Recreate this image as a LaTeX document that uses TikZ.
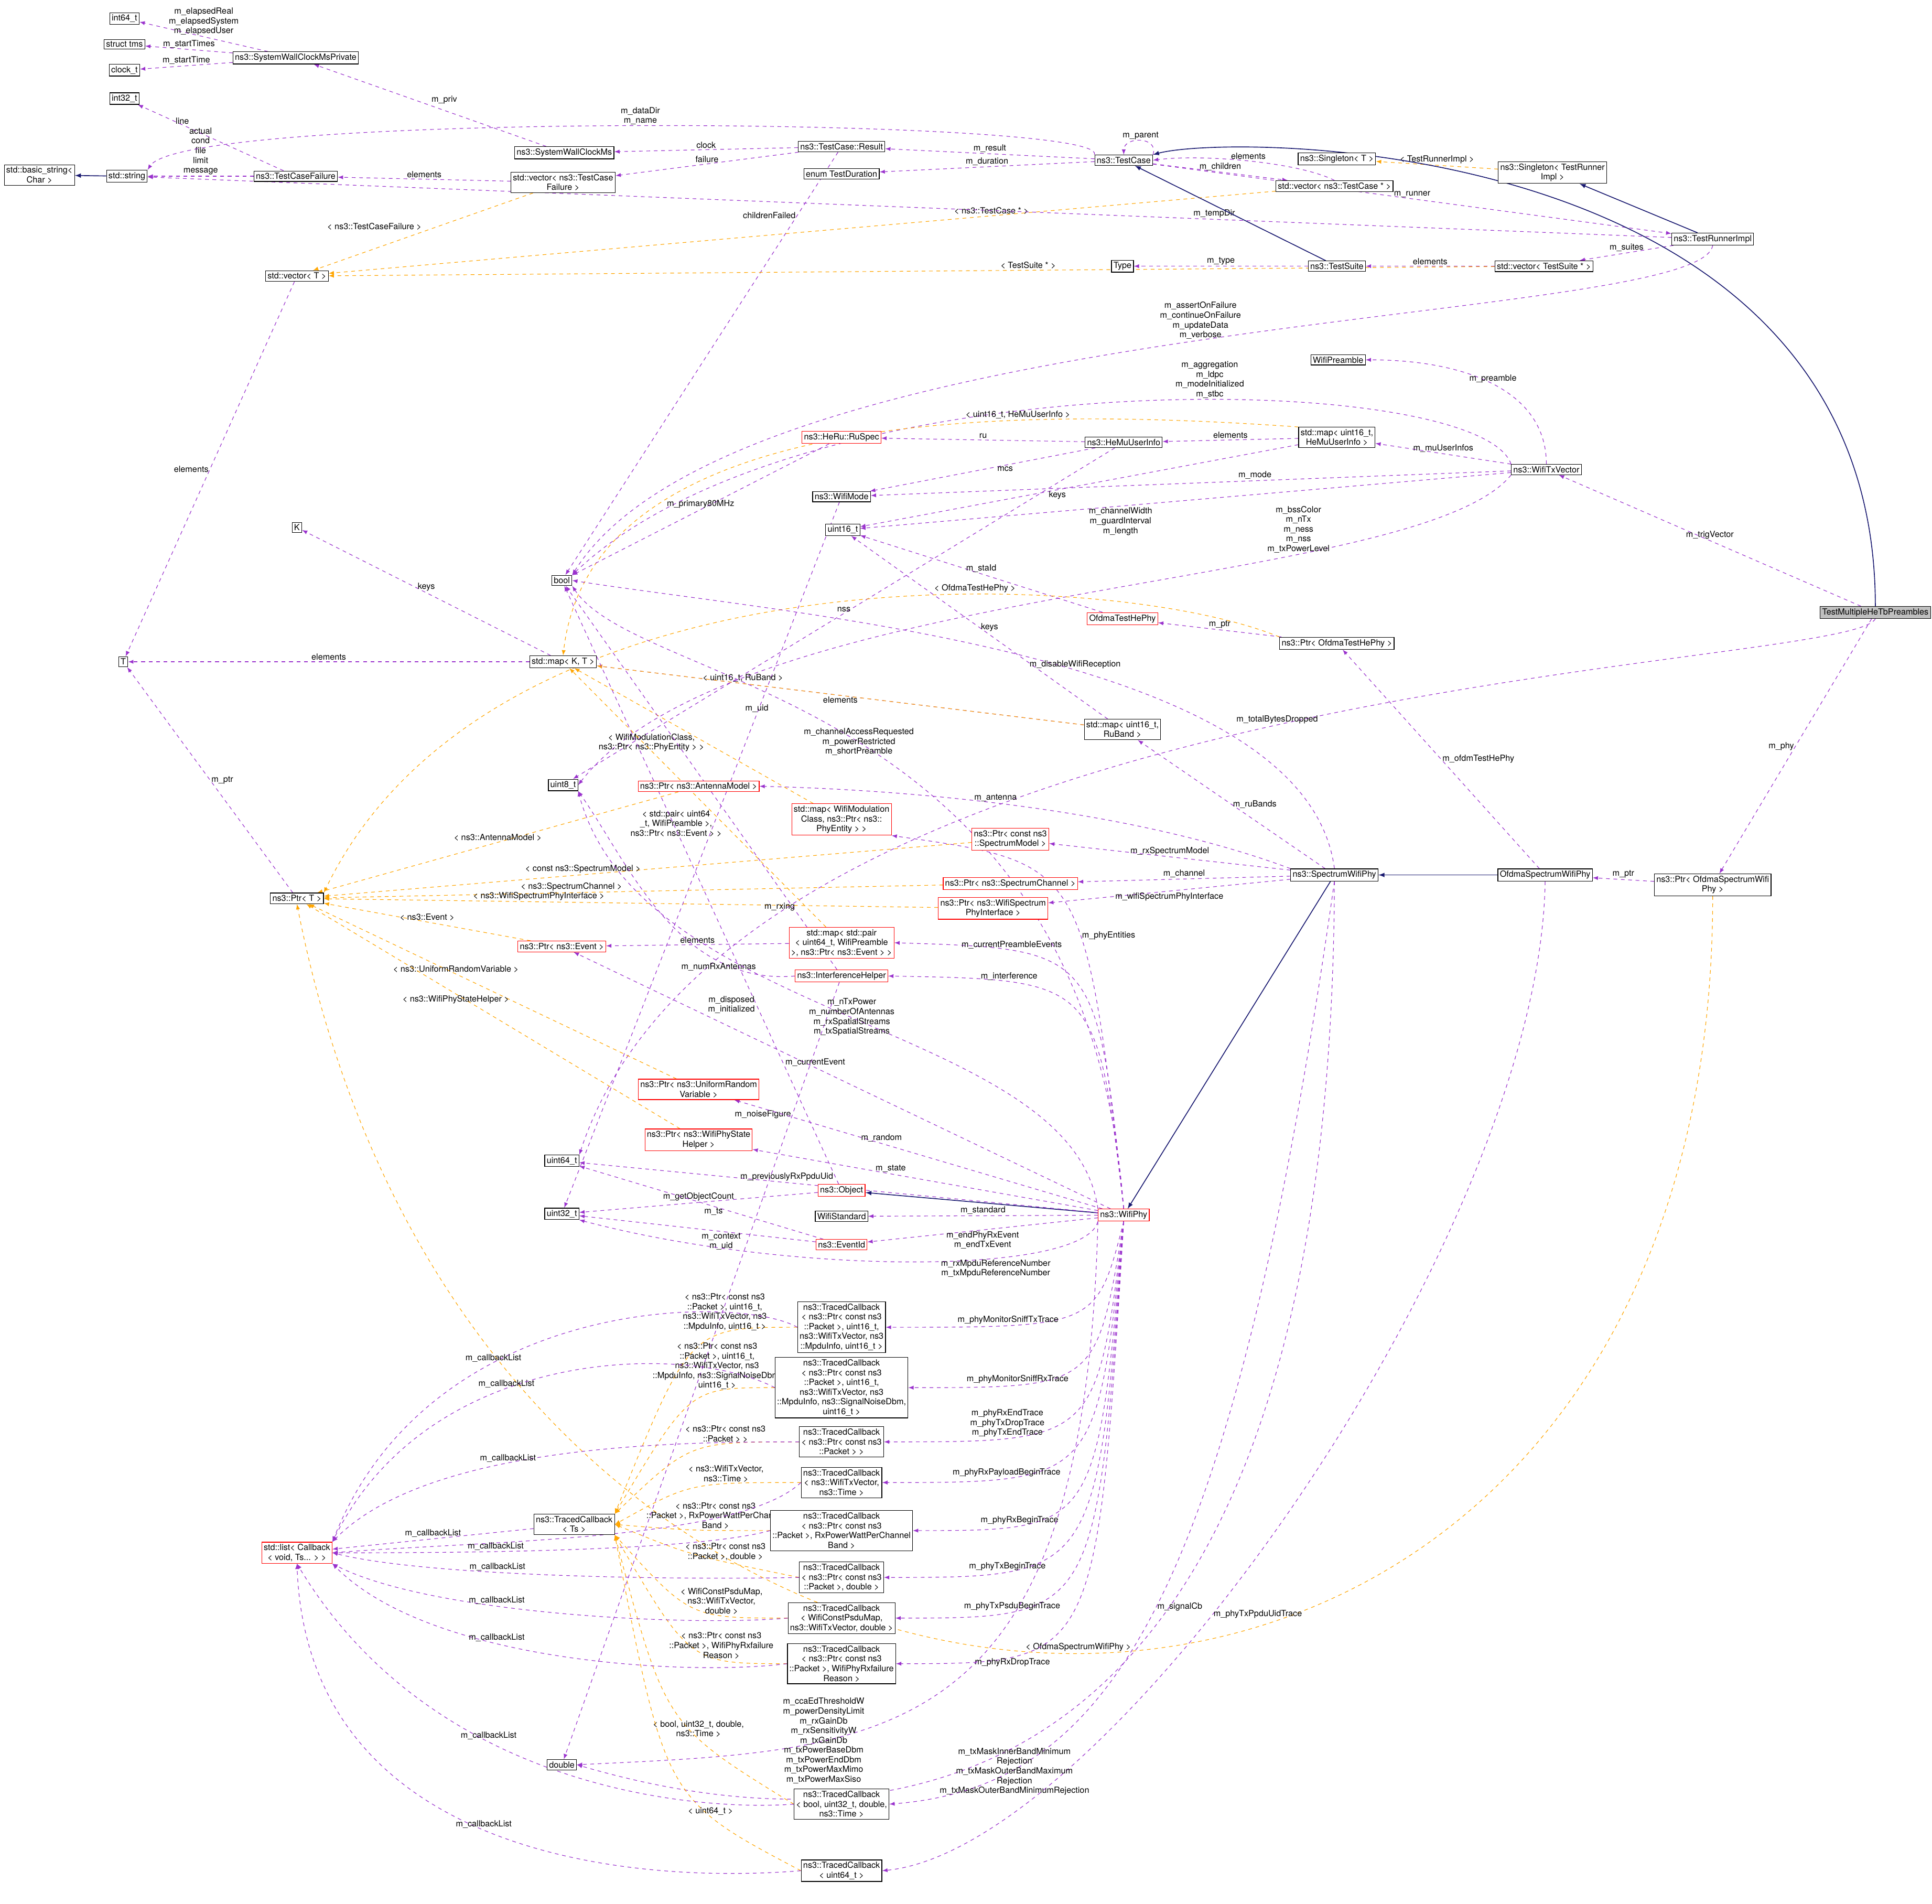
\documentclass[tikz,border=0pt]{standalone}
\usepackage{fontspec}
\setmainfont{TeX Gyre Heros}
\usepackage{xcolor}
\usepackage{tikz}
\usetikzlibrary{arrows}
\definecolor{usecol}{HTML}{9A32CD}
\definecolor{tplcol}{HTML}{FFA500}
\definecolor{inhcol}{HTML}{191970}
\pgfdeclarelayer{edges}
\pgfsetlayers{edges,main}
\begin{document}
\begin{tikzpicture}[x=1pt, y=-1pt, font=\fontsize{6.9}{7.9}\selectfont]
\tikzstyle{cls} = [rectangle, draw=black, fill=white, inner sep=1.6pt, align=center, line width=0.5pt]
\tikzstyle{redcls} = [cls, draw=red]
\tikzstyle{use} = [-latex, dashed, draw=usecol, line width=0.5pt]
\tikzstyle{tpl} = [-latex, dashed, draw=tplcol, line width=0.5pt]
\tikzstyle{inh} = [-latex, draw=inhcol, line width=0.7pt]
\tikzstyle{lbl} = [align=center, inner sep=1pt]
\useasboundingbox (0,0) rectangle (1568,1545);

% left column
\node (i64)  [cls] at (101,15) {int64\_t};
\node (tms)  [cls] at (101,36) {struct tms};
\node (clk)  [cls] at (101,57) {clock\_t};
\node (i32)  [cls] at (101,80) {int32\_t};
\node (bstr) [cls] at (32,142) {std::basic\_string\textless\\Char \textgreater};
\node (str)  [cls] at (103,143) {std::string};
\node (kK)   [cls] at (241,428) {K};
\node (tT)   [cls] at (100,537) {T};
\node (swcp) [cls] at (240,47) {ns3::SystemWallClockMsPrivate};
\node (tcf)  [cls] at (240,143) {ns3::TestCaseFailure};
\node (vecT) [cls] at (241,224) {std::vector\textless{} T \textgreater};
\node (ptrT) [cls] at (241,729) {ns3::Ptr\textless{} T \textgreater};
\node (cbl)  [redcls] at (241,1260) {std::list\textless{} Callback\\\textless{} void, Ts... \textgreater{} \textgreater};

% second column
\node (swc)  [cls] at (458,124) {ns3::SystemWallClockMs};
\node (vtcf) [cls] at (457,148) {std::vector\textless{} ns3::TestCase\\Failure \textgreater};
\node (bl)   [cls] at (456,471) {bool};
\node (mapKT)[cls] at (457,537) {std::map\textless{} K, T \textgreater};
\node (u8)   [cls] at (457,637) {uint8\_t};
\node (pev)  [redcls] at (456,768) {ns3::Ptr\textless{} ns3::Event \textgreater};
\node (u64)  [cls] at (456,942) {uint64\_t};
\node (u32)  [cls] at (456,985) {uint32\_t};
\node (tcTs) [cls] at (466,1237) {ns3::TracedCallback\\\textless{} Ts \textgreater};
\node (dbl)  [cls] at (456,1432) {double};
\node (pant) [redcls] at (567,638) {ns3::Ptr\textless{} ns3::AntennaModel \textgreater};
\node (purv) [redcls] at (567,884) {ns3::Ptr\textless{} ns3::UniformRandom\\Variable \textgreater};
\node (pwsh) [redcls] at (567,925) {ns3::Ptr\textless{} ns3::WifiPhyState\\Helper \textgreater};

% third column
\node (res)   [cls] at (683,119) {ns3::TestCase::Result};
\node (tdur)  [cls] at (683,141) {enum TestDuration};
\node (ruspec)[redcls] at (683,355) {ns3::HeRu::RuSpec};
\node (wmode) [cls] at (683,403) {ns3::WifiMode};
\node (u16)   [cls] at (684,430) {uint16\_t};
\node (mapWmc)[redcls] at (683,665) {std::map\textless{} WifiModulation\\Class, ns3::Ptr\textless{} ns3::\\PhyEntity \textgreater{} \textgreater};
\node (mapPr) [redcls] at (683,765) {std::map\textless{} std::pair\\\textless{} uint64\_t, WifiPreamble\\\textgreater, ns3::Ptr\textless{} ns3::Event \textgreater{} \textgreater};
\node (ih)    [redcls] at (683,792) {ns3::InterferenceHelper};
\node (obj)   [redcls] at (683,966) {ns3::Object};
\node (wstd)  [cls] at (683,987) {WifiStandard};
\node (evid)  [redcls] at (683,1010) {ns3::EventId};
\node (tc1) [cls] at (683,1077) {ns3::TracedCallback\\\textless{} ns3::Ptr\textless{} const ns3\\::Packet \textgreater, uint16\_t,\\ns3::WifiTxVector, ns3\\::MpduInfo, uint16\_t \textgreater};
\node (tc2) [cls] at (683,1126) {ns3::TracedCallback\\\textless{} ns3::Ptr\textless{} const ns3\\::Packet \textgreater, uint16\_t,\\ns3::WifiTxVector, ns3\\::MpduInfo, ns3::SignalNoiseDbm,\\uint16\_t \textgreater};
\node (tc3) [cls] at (683,1170) {ns3::TracedCallback\\\textless{} ns3::Ptr\textless{} const ns3\\::Packet \textgreater{} \textgreater};
\node (tc4) [cls] at (683,1203) {ns3::TracedCallback\\\textless{} ns3::WifiTxVector,\\ns3::Time \textgreater};
\node (tc5) [cls] at (683,1242) {ns3::TracedCallback\\\textless{} ns3::Ptr\textless{} const ns3\\::Packet \textgreater, RxPowerWattPerChannel\\Band \textgreater};
\node (tc6) [cls] at (683,1280) {ns3::TracedCallback\\\textless{} ns3::Ptr\textless{} const ns3\\::Packet \textgreater, double \textgreater};
\node (tc7) [cls] at (683,1313) {ns3::TracedCallback\\\textless{} WifiConstPsduMap,\\ns3::WifiTxVector, double \textgreater};
\node (tc8) [cls] at (683,1350) {ns3::TracedCallback\\\textless{} ns3::Ptr\textless{} const ns3\\::Packet \textgreater, WifiPhyRxfailure\\Reason \textgreater};
\node (tcSig) [cls] at (683,1464) {ns3::TracedCallback\\\textless{} bool, uint32\_t, double,\\ns3::Time \textgreater};
\node (tcU64) [cls] at (683,1518) {ns3::TracedCallback\\\textless{} uint64\_t \textgreater};
\node (pspm)  [redcls] at (820,681) {ns3::Ptr\textless{} const ns3\\::SpectrumModel \textgreater};
\node (pch)   [redcls] at (820,717) {ns3::Ptr\textless{} ns3::SpectrumChannel \textgreater};
\node (pwspi) [redcls] at (806,737) {ns3::Ptr\textless{} ns3::WifiSpectrum\\PhyInterface \textgreater};

% fourth column
\node (tc)    [cls] at (912,130) {ns3::TestCase};
\node (typ)   [cls] at (911,216) {Type};
\node (hemu)  [cls] at (912,359) {ns3::HeMuUserInfo};
\node (othp)  [redcls] at (911,502) {OfdmaTestHePhy};
\node (mapRu) [cls] at (911,592) {std::map\textless{} uint16\_t,\\RuBand \textgreater};
\node (wphy)  [redcls] at (912,986) {ns3::WifiPhy};

% right columns
\node (sgT)   [cls] at (1085,129) {ns3::Singleton\textless{} T \textgreater};
\node (vtc)   [cls] at (1083,151) {std::vector\textless{} ns3::TestCase * \textgreater};
\node (ts)    [cls] at (1085,216) {ns3::TestSuite};
\node (wpre)  [cls] at (1086,292) {WifiPreamble};
\node (mapHe) [cls] at (1085,355) {std::map\textless{} uint16\_t,\\HeMuUserInfo \textgreater};
\node (pothp) [cls] at (1085,522) {ns3::Ptr\textless{} OfdmaTestHePhy \textgreater};
\node (swp)   [cls] at (1083,710) {ns3::SpectrumWifiPhy};
\node (sgR)   [cls] at (1260,140) {ns3::Singleton\textless{} TestRunner\\Impl \textgreater};
\node (vts)   [cls] at (1253,216) {std::vector\textless{} TestSuite * \textgreater};
\node (txv)   [cls] at (1255,381) {ns3::WifiTxVector};
\node (oswp)  [cls] at (1254,710) {OfdmaSpectrumWifiPhy};
\node (tri)   [cls] at (1390,194) {ns3::TestRunnerImpl};
\node (poswp) [cls] at (1390,718) {ns3::Ptr\textless{} OfdmaSpectrumWifi\\Phy \textgreater};
\node (tmh)   [cls, fill=black!25] at (1522,497) {TestMultipleHeTbPreambles};

\begin{pgfonlayer}{edges}
% test framework
\draw [use] (swcp) -- node[lbl, above] {m\_elapsedReal\\m\_elapsedSystem\\m\_elapsedUser} (i64);
\draw [use] (swcp) -- node[lbl, above] {m\_startTimes} (tms);
\draw [use] (swcp) -- node[lbl, above] {m\_startTime} (clk);
\draw [use] (swc) -- node[lbl, above right] {m\_priv} (swcp);
\draw [use] (tcf) -- node[lbl, pos=0.75, right] {line} (i32);
\draw [use] (tcf) -- node[lbl, above] {actual\\cond\\file\\limit\\message} (str);
\draw [inh] (str) -- (bstr);
\draw [use] (vtcf) -- node[lbl, above] {elements} (tcf);
\draw [tpl] (vtcf) -- node[lbl, above left] {\textless{} ns3::TestCaseFailure \textgreater} (vecT);
\draw [use] (res) -- node[lbl, above] {clock} (swc);
\draw [use] (res) -- node[lbl, above] {failure} (vtcf);
\draw [use] (res) -- node[lbl, pos=0.15, left] {childrenFailed} (bl);
\draw [use] (tc) -- node[lbl, above] {m\_result} (res);
\draw [use] (tc) -- node[lbl, above] {m\_duration} (tdur);
\draw [use] (tc.north east) .. controls +(5,-15) and +(0,-15) .. node[lbl, above] {m\_parent} (tc.north);
\draw [use] (tc.north west) .. controls (900,95) and (150,90) .. node[lbl, pos=0.5, above] {m\_dataDir\\m\_name} (str.north east);
\draw [use] (tc) -- node[lbl, above] {m\_children} (vtc);
\draw [use] (vtc.north) .. controls +(-30,-15) and +(40,-5) .. node[lbl, above] {elements} (tc.east);
\draw [tpl] (vtc) -- node[lbl, pos=0.3, above] {\textless{} ns3::TestCase * \textgreater} (vecT);
\draw [tpl] (sgR) -- node[lbl, above] {\textless{} TestRunnerImpl \textgreater} (sgT);
\draw [inh] (tri) -- (sgR);
\draw [use] (tc) -- node[lbl, above] {m\_runner} (tri);
\draw [use] (tri) -- node[lbl, pos=0.3, above] {m\_tempDir} (str);
\draw [use] (tri.south) .. controls (1380,265) and (600,250) .. node[lbl, pos=0.5, above] {m\_assertOnFailure\\m\_continueOnFailure\\m\_updateData\\m\_verbose} (bl.north east);
\draw [use] (tri) -- node[lbl, above] {m\_suites} (vts);
\draw [inh] (ts) -- (tc);
\draw [use] (ts) -- node[lbl, above] {m\_type} (typ);
\draw [use] (vts) -- node[lbl, above] {elements} (ts);
\draw [tpl] (vts) -- node[lbl, pos=0.4, above] {\textless{} TestSuite * \textgreater} (vecT);
\draw [use] (vecT) -- node[lbl, left] {elements} (tT);
\draw [inh] (tmh.north) .. controls (1522,108) and (1000,108) .. (tc.north east);
\draw [use] (tmh) -- node[lbl, above] {m\_trigVector} (txv);
\draw [use] (tmh) -- node[lbl, left] {m\_phy} (poswp);
\draw [use] (tmh.south) .. controls (1500,545) and (600,545) .. node[lbl, pos=0.5, above] {m\_totalBytesDropped} (u64.north east);

% tx vector
\draw [use] (txv.north) .. controls +(0,-60) and +(80,0) .. node[lbl, above] {m\_preamble} (wpre.east);
\draw [use] (txv.north west) .. controls (1200,300) and (650,290) .. node[lbl, pos=0.42, above] {m\_aggregation\\m\_ldpc\\m\_modeInitialized\\m\_stbc} (bl.north east);
\draw [use] (txv) -- node[lbl, above] {m\_muUserInfos} (mapHe);
\draw [use] (txv) -- node[lbl, pos=0.4, above] {m\_mode} (wmode);
\draw [use] (txv) -- node[lbl, pos=0.6, below] {m\_channelWidth\\m\_guardInterval\\m\_length} (u16);
\draw [use] (txv.south west) .. controls (1150,480) and (600,470) .. node[lbl, pos=0.3, above] {m\_bssColor\\m\_nTx\\m\_ness\\m\_nss\\m\_txPowerLevel} (u8.east);
\draw [use] (mapHe) -- node[lbl, above] {elements} (hemu);
\draw [use] (mapHe) -- node[lbl, pos=0.55, below] {keys} (u16);
\draw [tpl] (mapHe.north west) .. controls (820,330) and (480,330) .. node[lbl, pos=0.3, above] {\textless{} uint16\_t, HeMuUserInfo \textgreater} (mapKT.north);
\draw [use] (hemu) -- node[lbl, above] {ru} (ruspec);
\draw [use] (hemu) -- node[lbl, pos=0.4, below] {mcs} (wmode);
\draw [use] (hemu) -- node[lbl, pos=0.5, above] {nss} (u8);
\draw [use] (ruspec) -- node[lbl, above] {m\_primary80MHz} (bl);
\draw [use] (wmode) -- node[lbl, pos=0.3, above] {m\_uid} (u32);
\draw [use] (mapKT) -- node[lbl, above] {keys} (kK);
\draw [use] (mapKT) -- node[lbl, above] {elements} (tT);
\draw [use] (othp) -- node[lbl, above] {m\_staId} (u16);
\draw [use] (pothp) -- node[lbl, above] {m\_ptr} (othp);
\draw [tpl] (pothp.north west) .. controls (900,460) and (400,440) .. node[lbl, pos=0.35, above] {\textless{} OfdmaTestHePhy \textgreater} (ptrT.north east);
\draw [use] (oswp) -- node[lbl, right] {m\_ofdmTestHePhy} (pothp);
\draw [use] (mapRu) -- node[lbl, right] {keys} (u16);
\draw [use] (mapRu) -- node[lbl, below] {elements} (mapKT);
\draw [tpl] (mapRu) -- node[lbl, pos=0.7, above] {\textless{} uint16\_t, RuBand \textgreater} (mapKT);

% spectrum phy
\draw [use] (swp) -- node[lbl, right] {m\_ruBands} (mapRu);
\draw [inh] (swp) -- (wphy);
\draw [inh] (oswp) -- (swp);
\draw [use] (poswp) -- node[lbl, above] {m\_ptr} (oswp);
\draw [tpl] (poswp.south) .. controls (1390,1545) and (400,1545) .. node[lbl, above] {\textless{} OfdmaSpectrumWifiPhy \textgreater} (ptrT.south);
\draw [use] (oswp.south) .. controls (1250,1000) and (900,1500) .. node[lbl, pos=0.6, right] {m\_phyTxPpduUidTrace} (tcU64.east);
\draw [use] (swp.north west) .. controls (900,650) and (700,640) .. node[lbl, pos=0.5, above] {m\_antenna} (pant.east);
\draw [use] (swp) -- node[lbl, above] {m\_rxSpectrumModel} (pspm);
\draw [use] (swp) -- node[lbl, above] {m\_channel} (pch);
\draw [use] (swp) -- node[lbl, below] {m\_wifiSpectrumPhyInterface} (pwspi);
\draw [use] (swp.north) .. controls (1060,530) and (650,500) .. node[lbl, pos=0.45, above] {m\_disableWifiReception} (bl.east);
\draw [use] (swp.south) .. controls (1000,1300) and (900,1450) .. node[lbl, pos=0.5, right] {m\_signalCb} (tcSig.east);
\draw [use] (swp.south) .. controls (1080,1500) and (700,1500) .. node[lbl, pos=0.55, below] {m\_txMaskInnerBandMinimum\\Rejection\\m\_txMaskOuterBandMaximum\\Rejection\\m\_txMaskOuterBandMinimumRejection} (dbl.east);

% pointers
\draw [use] (ptrT) -- node[lbl, right] {m\_ptr} (tT);
\draw [tpl] (pant) -- node[lbl, above] {\textless{} ns3::AntennaModel \textgreater} (ptrT);
\draw [tpl] (pspm) -- node[lbl, pos=0.6, above] {\textless{} const ns3::SpectrumModel \textgreater} (ptrT);
\draw [tpl] (pch) -- node[lbl, pos=0.6, above] {\textless{} ns3::SpectrumChannel \textgreater} (ptrT);
\draw [tpl] (pwspi) -- node[lbl, pos=0.65, above] {\textless{} ns3::WifiSpectrumPhyInterface \textgreater} (ptrT);
\draw [tpl] (pev) -- node[lbl, above] {\textless{} ns3::Event \textgreater} (ptrT);
\draw [tpl] (purv) -- node[lbl, pos=0.6, above] {\textless{} ns3::UniformRandomVariable \textgreater} (ptrT);
\draw [tpl] (pwsh) -- node[lbl, pos=0.6, below] {\textless{} ns3::WifiPhyStateHelper \textgreater} (ptrT);
\draw [tpl] (mapWmc) -- node[lbl, pos=0.45, left] {\textless{} WifiModulationClass,\\ns3::Ptr\textless{} ns3::PhyEntity \textgreater{} \textgreater} (mapKT);
\draw [tpl] (mapPr) -- node[lbl, pos=0.4, left] {\textless{} std::pair\textless{} uint64\\\_t, WifiPreamble \textgreater,\\ns3::Ptr\textless{} ns3::Event \textgreater{} \textgreater} (mapKT);
\draw [use] (mapPr) -- node[lbl, above] {elements} (pev);
\draw [use] (ih.west) .. controls (550,800) and (510,700) .. node[lbl, pos=0.25, below] {m\_numRxAntennas} (u8.south east);
\draw [use] (ih) -- node[lbl, pos=0.15, above left] {m\_rxing} (bl);
\draw [use] (ih) -- node[lbl, pos=0.17, left] {m\_noiseFigure} (dbl);
\draw [use] (obj) -- node[lbl, pos=0.3, left] {m\_disposed\\m\_initialized} (bl);
\draw [use] (obj) -- node[lbl, pos=0.5, above] {m\_getObjectCount} (u32);
\draw [use] (evid) -- node[lbl, pos=0.45, below] {m\_ts} (u64);
\draw [use] (evid) -- node[lbl, pos=0.4, below] {m\_context\\m\_uid} (u32);

% wifi phy
\draw [inh] (wphy) -- (obj);
\draw [use] (wphy) -- node[lbl, above] {m\_standard} (wstd);
\draw [use] (wphy) -- node[lbl, below] {m\_endPhyRxEvent\\m\_endTxEvent} (evid);
\draw [use] (wphy.south west) .. controls (880,1035) and (640,1035) .. node[lbl, pos=0.35, below] {m\_rxMpduReferenceNumber\\m\_txMpduReferenceNumber} (u32.south east);
\draw [use] (wphy) -- node[lbl, pos=0.6, above] {m\_previouslyRxPpduUid} (u64);
\draw [use] (wphy) -- node[lbl, pos=0.6, above] {m\_state} (pwsh);
\draw [use] (wphy) -- node[lbl, pos=0.6, above] {m\_random} (purv);
\draw [use] (wphy) -- node[lbl, pos=0.55, above] {m\_currentEvent} (pev);
\draw [use] (wphy.north west) .. controls (870,830) and (520,830) .. node[lbl, pos=0.5] {m\_nTxPower\\m\_numberOfAntennas\\m\_rxSpatialStreams\\m\_txSpatialStreams} (u8.south east);
\draw [use] (wphy.north) .. controls (890,795) .. node[lbl, pos=0.75, above] {m\_interference} (ih.east);
\draw [use] (wphy.north) .. controls (890,770) .. node[lbl, pos=0.75, above] {m\_currentPreambleEvents} (mapPr.east);
\draw [use] (wphy.north) .. controls (880,700) .. node[lbl, pos=0.4, right] {m\_phyEntities} (mapWmc.south east);
\draw [use] (wphy.north) .. controls (880,560) and (520,560) .. node[lbl, pos=0.5] {m\_channelAccessRequested\\m\_powerRestricted\\m\_shortPreamble} (bl.south east);
\draw [use] (wphy.south) .. controls (890,1077) .. node[lbl, pos=0.75, above] {m\_phyMonitorSniffTxTrace} (tc1.east);
\draw [use] (wphy.south) .. controls (890,1126) .. node[lbl, pos=0.75, above] {m\_phyMonitorSniffRxTrace} (tc2.east);
\draw [use] (wphy.south) .. controls (890,1170) .. node[lbl, pos=0.75, above] {m\_phyRxEndTrace\\m\_phyTxDropTrace\\m\_phyTxEndTrace} (tc3.east);
\draw [use] (wphy.south) .. controls (890,1203) .. node[lbl, pos=0.75, above] {m\_phyRxPayloadBeginTrace} (tc4.east);
\draw [use] (wphy.south) .. controls (890,1242) .. node[lbl, pos=0.75, above] {m\_phyRxBeginTrace} (tc5.east);
\draw [use] (wphy.south) .. controls (890,1280) .. node[lbl, pos=0.75, above] {m\_phyTxBeginTrace} (tc6.east);
\draw [use] (wphy.south) .. controls (890,1313) .. node[lbl, pos=0.75, above] {m\_phyTxPsduBeginTrace} (tc7.east);
\draw [use] (wphy.south) .. controls (890,1350) .. node[lbl, pos=0.75, below] {m\_phyRxDropTrace} (tc8.east);
\draw [use] (wphy.south west) .. controls (880,1420) and (720,1420) .. node[lbl, pos=0.7] {m\_ccaEdThresholdW\\m\_powerDensityLimit\\m\_rxGainDb\\m\_rxSensitivityW\\m\_txGainDb\\m\_txPowerBaseDbm\\m\_txPowerEndDbm\\m\_txPowerMaxMimo\\m\_txPowerMaxSiso} (dbl.east);

% traced callbacks
\draw [use] (tcTs) -- node[lbl, above] {m\_callbackList} (cbl);
\draw [tpl] (tc1.west) .. controls (560,1077) .. node[lbl, pos=0.3, above] {\textless{} ns3::Ptr\textless{} const ns3\\::Packet \textgreater, uint16\_t,\\ns3::WifiTxVector, ns3\\::MpduInfo, uint16\_t \textgreater} (tcTs.north east);
\draw [tpl] (tc2.west) .. controls (560,1126) .. node[lbl, pos=0.3, above] {\textless{} ns3::Ptr\textless{} const ns3\\::Packet \textgreater, uint16\_t,\\ns3::WifiTxVector, ns3\\::MpduInfo, ns3::SignalNoiseDbm,\\uint16\_t \textgreater} (tcTs.north east);
\draw [tpl] (tc3.west) .. controls (560,1170) .. node[lbl, pos=0.3, above] {\textless{} ns3::Ptr\textless{} const ns3\\::Packet \textgreater{} \textgreater} (tcTs.north east);
\draw [tpl] (tc4.west) .. controls (560,1203) .. node[lbl, pos=0.3, above] {\textless{} ns3::WifiTxVector,\\ns3::Time \textgreater} (tcTs.east);
\draw [tpl] (tc5.west) .. controls (560,1242) .. node[lbl, pos=0.3, above] {\textless{} ns3::Ptr\textless{} const ns3\\::Packet \textgreater, RxPowerWattPerChannel\\Band \textgreater} (tcTs.east);
\draw [tpl] (tc6.west) .. controls (560,1262) .. node[lbl, pos=0.3, above] {\textless{} ns3::Ptr\textless{} const ns3\\::Packet \textgreater, double \textgreater} (tcTs.east);
\draw [tpl] (tc7.west) .. controls (560,1313) .. node[lbl, pos=0.3, above] {\textless{} WifiConstPsduMap,\\ns3::WifiTxVector,\\double \textgreater} (tcTs.south east);
\draw [tpl] (tc8.west) .. controls (560,1350) .. node[lbl, pos=0.3, above] {\textless{} ns3::Ptr\textless{} const ns3\\::Packet \textgreater, WifiPhyRxfailure\\Reason \textgreater} (tcTs.south east);
\draw [tpl] (tcSig.west) .. controls (540,1400) .. node[lbl, pos=0.35, above] {\textless{} bool, uint32\_t, double,\\ns3::Time \textgreater} (tcTs.south east);
\draw [tpl] (tcU64.west) .. controls (540,1460) .. node[lbl, pos=0.3, above] {\textless{} uint64\_t \textgreater} (tcTs.south east);
\draw [use] (tc1.west) .. controls (600,1050) and (350,1050) .. node[lbl, pos=0.65, above] {m\_callbackList} (cbl.north east);
\draw [use] (tc2.west) .. controls (560,1090) and (350,1090) .. node[lbl, pos=0.6, above] {m\_callbackList} (cbl.north east);
\draw [use] (tc3.west) .. controls (560,1170) and (350,1170) .. node[lbl, pos=0.6, above] {m\_callbackList} (cbl.north east);
\draw [use] (tc4.west) .. controls (600,1250) and (400,1250) .. (cbl.east);
\draw [use] (tc5.west) .. controls (560,1260) and (350,1260) .. node[lbl, pos=0.62, above] {m\_callbackList} (cbl.east);
\draw [use] (tc6.west) .. controls (560,1282) and (350,1280) .. node[lbl, pos=0.62, above] {m\_callbackList} (cbl.east);
\draw [use] (tc7.west) .. controls (560,1320) and (350,1310) .. node[lbl, pos=0.62, above] {m\_callbackList} (cbl.south east);
\draw [use] (tc8.west) .. controls (560,1360) and (350,1350) .. node[lbl, pos=0.62, above] {m\_callbackList} (cbl.south east);
\draw [use] (tcSig.west) .. controls (560,1470) and (350,1450) .. node[lbl, pos=0.62, above] {m\_callbackList} (cbl.south);
\draw [use] (tcU64.west) .. controls (500,1530) and (250,1500) .. node[lbl, pos=0.5, above] {m\_callbackList} (cbl.south);
\end{pgfonlayer}
\end{tikzpicture}
\end{document}
